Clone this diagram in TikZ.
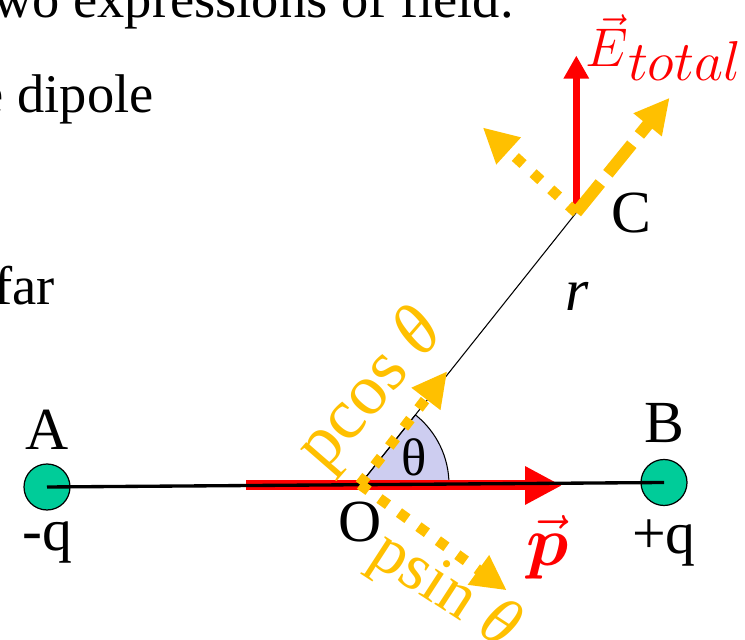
\RequirePackage{fix-cm}
\documentclass[tikz,border=0pt]{standalone}
\usepackage{amsmath}
\usepackage{fontspec}
\setmainfont{Liberation Serif}
\usepackage{tikz}
\usetikzlibrary{arrows.meta, positioning, calc}

\definecolor{gold}{RGB}{255,192,0}
\definecolor{tealq}{RGB}{0,204,153}
\definecolor{wedge}{RGB}{205,205,240}

\begin{document}
\begin{tikzpicture}[
    charge/.style={circle, draw=black, line width=0.7pt, fill=tealq, minimum size=0.92cm, inner sep=0pt, outer sep=0pt},
    lbl/.style={inner sep=0pt, font=\fontsize{34}{40}\selectfont},
    sidetext/.style={inner sep=0pt, anchor=base east, font=\fontsize{31}{37}\selectfont},
    comp/.style={text=gold, inner sep=0pt, font=\fontsize{41}{48}\selectfont},
    dotarrow/.style={gold, line width=0.21cm, dash pattern=on 0.21cm off 0.27cm, -{Triangle[length=0.7cm, width=0.68cm]}},
    dasharrow/.style={gold, line width=0.24cm, dash pattern=on 0.76cm off 0.24cm, -{Triangle[length=0.7cm, width=0.68cm]}},
    dipole/.style={red, line width=0.2cm, -{Triangle[length=0.74cm, width=0.72cm]}},
    field/.style={red, line width=0.14cm, -{Triangle[length=0.46cm, width=0.48cm]}}
]
\path[use as bounding box, clip] (0,0) rectangle (14.9,12.8);

% slide text, cut by the frame
\node[sidetext] (line1) at (10.28,12.44) {two expressions of field.};
\node[sidetext] (line2) at (3.08,10.54) {the dipole};
\node[sidetext] (line3) at (1.1,6.7) {far};

\coordinate (O) at (7.2,3.11);
\coordinate (C) at ($(O)+(51.5:6.95)$);

% angle
\filldraw[fill=wedge, draw=black, line width=0.6pt] (O) -- ++(0:1.78) arc[start angle=0, end angle=51.5, radius=1.78] -- cycle;
\node[lbl, font=\fontsize{30}{36}\selectfont] (th) at (8.28,3.66) {θ};

% charges
\node[charge] (qA) at (0.94,3.06) {};
\node[charge] (qB) at (13.28,3.15) {};
\node[lbl, above=0.28cm of qA] (lA) {A};
\node[lbl, below=0.22cm of qA] (lqA) {-q};
\node[lbl, above=0.32cm of qB] (lB) {B};
\node[lbl, below=0.28cm of qB] (lqB) {+q};

\coordinate (pstart) at (4.92,3.09);
\coordinate (ptip) at (11.24,3.09);
\draw[dipole] (pstart) -- (ptip);
\draw[line width=1.9pt] (qA.center) -- (qB.center);
\draw[line width=0.6pt] (O) -- (C);

\node[lbl, below=0.34cm of O] (lO) {O};
\node[lbl, right=0.7cm of C] (lC) {C};
\node[lbl] (lr) at (11.54,6.88) {\textit{r}};

% components at O
\coordinate (pcos) at ($(O)+(52.4:2.86)$);
\coordinate (psin) at ($(O)+(-35.8:3.62)$);
\draw[dotarrow] (O) -- (pcos);
\draw[dotarrow] (O) -- (psin);
\node[comp, rotate=49] (lpcos) at (7.44,4.98) {pcos \textit{θ}};
\node[comp, rotate=-33, font=\fontsize{38}{44}\selectfont] (lpsin) at (8.88,0.97) {psin \textit{θ}};

% field at C
\coordinate (Etip) at ($(C)+(0,3.14)$);
\coordinate (Er) at ($(C)+(50.9:2.96)$);
\coordinate (Et) at ($(C)+(137.7:2.53)$);
\draw[field] (C) -- (Etip);
\draw[dotarrow] (C) -- (Et);
\draw[dasharrow] (C) -- (Er);

\node[inner sep=0pt, anchor=base west, text=red, font=\fontsize{31}{36}\selectfont] (lE) at (11.7,11.46) {$\vec{E}$\raisebox{-0.27cm}{\fontsize{32}{36}\selectfont$total$}};
\node[inner sep=0pt, anchor=base, text=red, font=\fontsize{40}{46}\selectfont] (lp) at (10.96,1.48) {$\vec{\boldsymbol{p}}$};

\end{tikzpicture}
\end{document}
